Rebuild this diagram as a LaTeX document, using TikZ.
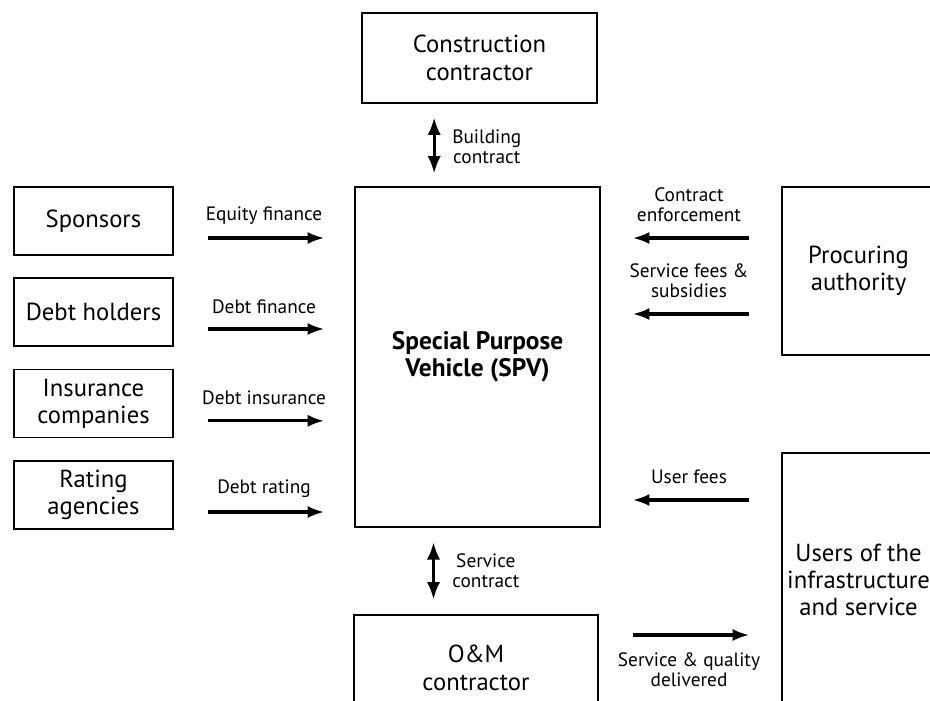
\documentclass[tikz,border=0pt]{standalone}
\usepackage{fontspec}
\setmainfont{PT Sans}
\usetikzlibrary{arrows.meta, positioning, calc}

\begin{document}
\begin{tikzpicture}[x=0.75pt, y=-0.75pt,
    box/.style={draw, line width=0.9pt, align=center, inner sep=0pt,
      font=\fontsize{18.5}{20.5}\selectfont},
    sidebox/.style={box, minimum width=119.25pt, minimum height=51pt},
    lbl/.style={align=center, inner sep=0pt, font=\fontsize{14.5}{15}\selectfont},
    flow/.style={line width=2.4pt, -{Latex[length=12.5pt, width=9pt]}},
    twoway/.style={line width=2.2pt,
      {Latex[length=13pt, width=10pt]}-{Latex[length=13pt, width=10pt]}}]
  \useasboundingbox (0,0) rectangle (930,700);
  \clip (0,0) rectangle (930,700);

  % central boxes
  \node[box, minimum width=176.25pt, minimum height=67.5pt] (constr) at (479.5,58)
    {Construction\\contractor};
  \node[box, minimum width=183.75pt, minimum height=255pt,
        font=\fontsize{19}{20.5}\selectfont\bfseries] (spv) at (477.5,357)
    {Special Purpose\\Vehicle (SPV)};
  \node[box, minimum width=183pt, minimum height=79.5pt] (om) at (476,668)
    {O\&M\\contractor};

  % left side
  \node[sidebox] (sponsors) at (93.5,221) {Sponsors};
  \node[sidebox] (debt) at (93.5,312) {Debt holders};
  \node[sidebox] (insur) at (93.5,403.5) {Insurance\\companies};
  \node[sidebox] (rating) at (93.5,495) {Rating\\agencies};

  % right side
  \node[box, minimum width=114.75pt, minimum height=126pt] (auth) at (858.5,271)
    {Procuring\\authority};
  \node[box, minimum width=114.75pt, minimum height=190.5pt] (users) at (858.5,580)
    {Users of the\\infrastructure\\and service};

  % flows into the SPV
  \draw[flow, shorten <=25.5pt, shorten >=22.5pt]
    ([yshift=-12.75pt]sponsors.east) -- ([yshift=-12.75pt]sponsors.east -| spv.west);
  \draw[flow, shorten <=25.5pt, shorten >=22.5pt]
    ([yshift=-12.75pt]debt.east) -- ([yshift=-12.75pt]debt.east -| spv.west);
  \draw[flow, shorten <=25.5pt, shorten >=22.5pt]
    ([yshift=-13pt]insur.east) -- ([yshift=-13pt]insur.east -| spv.west);
  \draw[flow, shorten <=25.5pt, shorten >=22.5pt]
    ([yshift=-12.75pt]rating.east) -- ([yshift=-12.75pt]rating.east -| spv.west);

  \node[lbl] (eqlbl) at (264,216) {Equity finance};
  \node[lbl] (dflbl) at (264,307) {Debt finance};
  \node[lbl] (dilbl) at (264,398) {Debt insurance};
  \node[lbl] (drlbl) at (264,489) {Debt rating};

  % contracts
  \draw[twoway, shorten <=10.5pt, shorten >=9.75pt]
    ([xshift=-34pt]constr.south) -- ([xshift=-34pt]constr.south |- spv.north);
  \node[lbl, anchor=west] (bclbl) at (452,147) {Building\\contract};
  \draw[twoway, shorten <=11pt, shorten >=11.25pt]
    ([xshift=-33pt]spv.south) -- ([xshift=-33pt]spv.south |- om.north);
  \node[lbl, anchor=west] (sclbl) at (452,571) {Service\\contract};

  % procuring authority and users
  \draw[flow, shorten <=24pt, shorten >=24pt]
    ([yshift=24.75pt]auth.west) -- ([yshift=24.75pt]auth.west -| spv.east);
  \draw[flow, shorten <=24pt, shorten >=24pt]
    ([yshift=-32.25pt]auth.west) -- ([yshift=-32.25pt]auth.west -| spv.east);
  \draw[flow, shorten <=24pt, shorten >=24pt]
    ([yshift=60pt]users.west) -- ([yshift=60pt]users.west -| spv.east);
  \draw[flow, shorten <=24pt, shorten >=24pt]
    ([yshift=-41.25pt]users.west -| spv.east) -- ([yshift=-41.25pt]users.west);

  \node[lbl] (celbl) at (689,205) {Contract\\enforcement};
  \node[lbl] (sflbl) at (689,281) {Service fees \&\\subsidies};
  \node[lbl] (uflbl) at (689,477) {User fees};
  \node[lbl] (sqlbl) at (689,670) {Service \& quality\\delivered};
\end{tikzpicture}
\end{document}
